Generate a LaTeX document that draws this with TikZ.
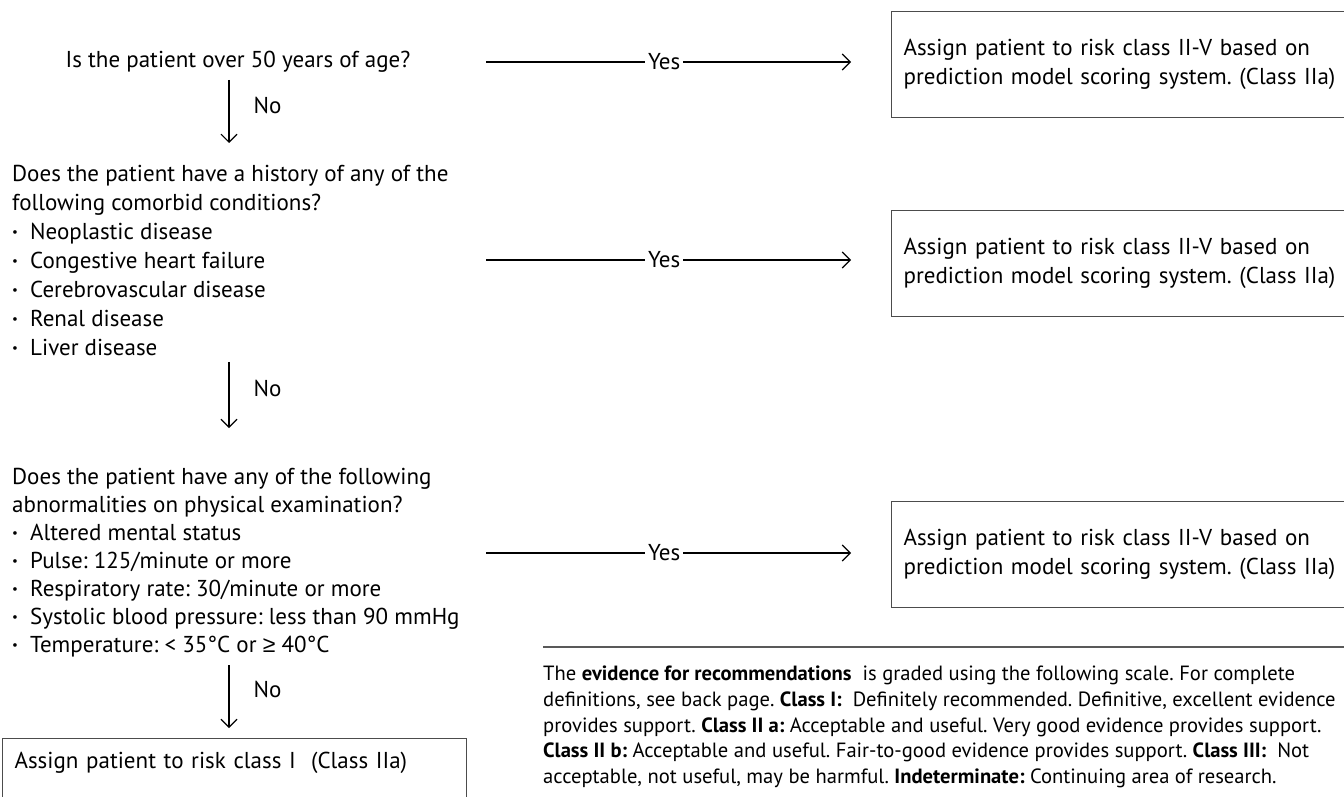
\documentclass[tikz,border=0pt]{standalone}
\usepackage{fontspec}
\setmainfont{PT Sans}
\newfontfamily\symf{Liberation Sans}
\usetikzlibrary{arrows.meta,positioning}
\newcommand{\bul}{\makebox[18pt][l]{\raisebox{0.28ex}{\fontsize{13}{13}\selectfont\textbullet}}}
\newcommand{\dg}{\textdegree}
\frenchspacing

\begin{document}
\begin{tikzpicture}[x=1pt,y=-1pt,
  qtext/.style={inner sep=0pt, align=left, anchor=north west, font=\fontsize{23}{29}\selectfont},
  resbox/.style={draw=black!70, line width=1.2pt, anchor=north west, text width=440pt,
    inner xsep=12pt, inner ysep=0pt, minimum height=106pt, align=left, font=\fontsize{23}{29}\selectfont},
  flow/.style={line width=1.1pt, -{Straight Barb[length=8pt,width=16pt,line width=1.1pt]}},
  lbl/.style={font=\fontsize{23}{26}\selectfont, inner sep=3pt}]
			%%%%% START %%%%%
			\useasboundingbox (0,0) rectangle (1344,797);
			
			\coordinate (col) at (229,0);
			
			% questions
			\node[qtext, anchor=center] (q1) at (238,62) {Is the patient over 50 years of age?};
			
			\node[qtext] (q2) at (12,165) {Does the patient have a history of any of the\\
				following comorbid conditions?\\
				\bul Neoplastic disease\\
				\bul Congestive heart failure\\
				\bul Cerebrovascular disease\\
				\bul Renal disease\\
				\bul Liver disease};
			
			\node[qtext, font=\fontsize{23}{28}\selectfont] (q3) at (12,468) {Does the patient have any of the following\\
				abnormalities on physical examination?\\
				\bul Altered mental status\\
				\bul Pulse: 125/minute or more\\
				\bul Respiratory rate: 30/minute or more\\
				\bul Systolic blood pressure: less than 90 mmHg\\
				\bul Temperature: < 35\dg C or {\symf ≥} 40\dg C};
			
			% results
			\node[resbox] (r1) at (891,11) {Assign patient to risk class II-V based on\\prediction model scoring system. (Class IIa)};
			\node[resbox] (r2) at (891,210) {Assign patient to risk class II-V based on\\prediction model scoring system. (Class IIa)};
			\node[resbox] (r3) at (891,501) {Assign patient to risk class II-V based on\\prediction model scoring system. (Class IIa)};
			\node[resbox, text width=440pt, minimum height=0pt, text height=22pt, text depth=70pt, inner ysep=8pt] (r4) at (2,738)
				{Assign patient to risk class I\ \ (Class IIa)};
			
			% yes arrows
			\coordinate (y1) at (486,62);
			\coordinate (y2) at (486,260);
			\coordinate (y3) at (486,553);
			\draw[flow, shorten >=40pt] (y1) -- (r1.west |- y1) node[lbl, fill=white, pos=0.44] {Yes};
			\draw[flow, shorten >=40pt] (y2) -- (r2.west |- y2) node[lbl, fill=white, pos=0.44] {Yes};
			\draw[flow, shorten >=40pt] (y3) -- (r3.west |- y3) node[lbl, fill=white, pos=0.44] {Yes};
			
			% no arrows
			\draw[flow] ([yshift=-7pt]q1.south -| col) -- ([yshift=22pt]q2.north -| col)
				node[lbl, midway, anchor=west, xshift=21pt, yshift=6pt] {No};
			\draw[flow] ([yshift=-6pt]q2.south -| col) -- ([yshift=40pt]q3.north -| col)
				node[lbl, midway, anchor=west, xshift=21pt, yshift=7pt] {No};
			\draw[flow] ([yshift=-8pt]q3.south -| col) -- ([yshift=10pt]r4.north -| col)
				node[lbl, midway, anchor=west, xshift=21pt, yshift=7pt] {No};
			
			% evidence note
			\node[qtext, font=\fontsize{20.6}{25.6}\selectfont] (ev) at (543,666) {The \textbf{evidence for recommendations}\ \ is graded using the following scale. For complete\\
				definitions, see back page. \textbf{Class I:}\ \ Definitely recommended. Definitive, excellent evidence\\
				provides support. \textbf{Class II a:} Acceptable and useful. Very good evidence provides support.\\
				\textbf{Class II b:} Acceptable and useful. Fair-to-good evidence provides support. \textbf{Class III:}\ \ Not\\
				acceptable, not useful, may be harmful. \textbf{Indeterminate:} Continuing area of research.};
			\draw[line width=1.2pt, black!65] ([yshift=19pt]ev.north west) -- ++(820,0);
			
			%%%%% END %%%%%
\end{tikzpicture}
\end{document}
